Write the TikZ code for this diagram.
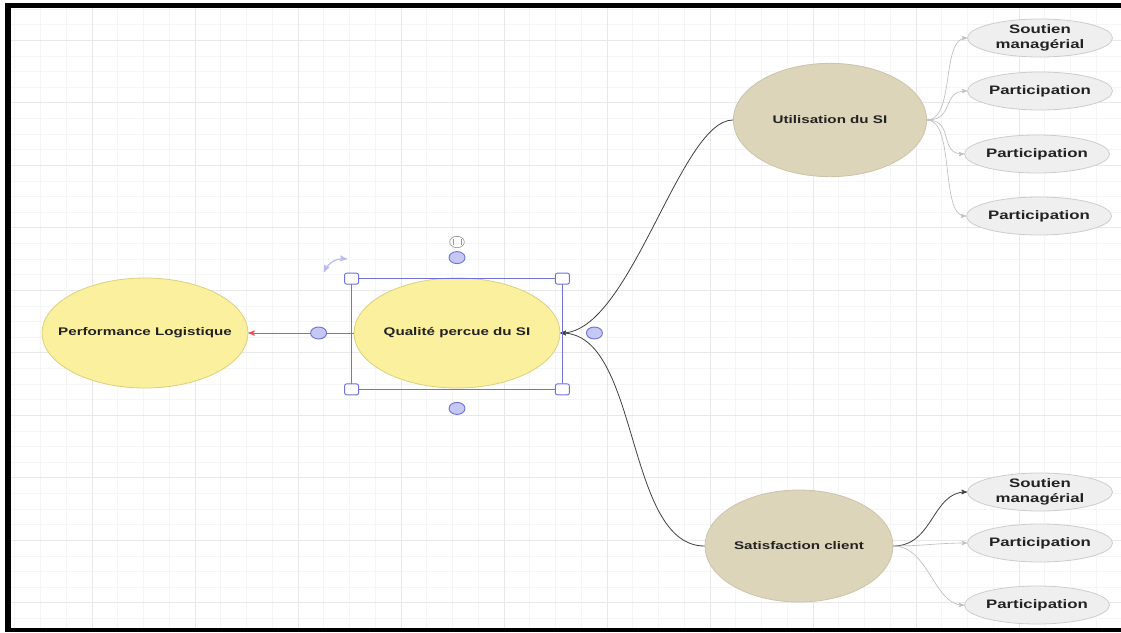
\documentclass[tikz,border=0pt]{standalone}
\usepackage{fontspec}
\setsansfont{Liberation Sans}[FakeStretch=1.37]
\usepackage{xcolor}
\usetikzlibrary{arrows,shapes}

\definecolor{gridmineur}{HTML}{F5F5F5}
\definecolor{gridmajeur}{HTML}{E8E8E8}
\definecolor{jaune}{HTML}{FAF09E}
\definecolor{jaunebord}{HTML}{DAD07E}
\definecolor{beige}{HTML}{DDD5BA}
\definecolor{grisclair}{HTML}{EFEFEF}
\definecolor{grisbord}{HTML}{CDCDCD}
\definecolor{texte}{HTML}{222222}
\definecolor{selbleu}{HTML}{6F73D9}
\definecolor{poigneebleu}{HTML}{C6C8F4}
\definecolor{rouge}{HTML}{EE4F52}

\tikzset{
  facteur/.style={ellipse, fill=jaune, draw=jaunebord, line width=0.6pt,
    inner xsep=-14pt, inner ysep=-2pt,
    minimum width=154.5pt, minimum height=82.5pt, text=texte,
    font=\sffamily\bfseries\fontsize{8.3}{10}\selectfont},
  dimension/.style={facteur, fill=beige, draw=beige!92!black,
    minimum width=145pt, minimum height=85pt},
  critere/.style={ellipse, fill=grisclair, draw=grisbord, line width=0.6pt,
    inner xsep=-14pt, inner ysep=-2pt,
    minimum width=108.75pt, minimum height=28.5pt, align=center, text=texte,
    font=\sffamily\bfseries\fontsize{9.2}{11.3}\selectfont},
  lien/.style={draw=black!75, line width=0.6pt},
  lienclair/.style={draw=black!25, line width=0.5pt},
  selbox/.style={draw=selbleu, line width=1.1pt},
  coin/.style={rectangle, rounded corners=1.5pt, fill=white, draw=selbleu, line width=0.7pt,
    minimum width=10.5pt, minimum height=8.2pt, inner sep=0pt},
  poignee/.style={ellipse, fill=poigneebleu, draw=selbleu, line width=0.7pt,
    minimum width=12pt, minimum height=9pt, inner sep=0pt},
  >=stealth'
}

\begin{document}
\begin{tikzpicture}[x=0.75pt,y=-0.75pt]
  \useasboundingbox (0,0) rectangle (1121,632);
  \fill[white] (-6,-6) rectangle (1127,638);

  \foreach \i in {0,...,42}
    \draw[gridmineur, line width=0.45pt] ({14.6+25.75*\i},8) -- ({14.6+25.75*\i},628);
  \foreach \i in {0,...,39}
    \draw[gridmineur, line width=0.45pt] (11,{9+15.625*\i}) -- (1121,{9+15.625*\i});
  \foreach \i in {0,...,9}
    \draw[gridmajeur, line width=0.55pt] ({92+103*\i},8) -- ({92+103*\i},628);
  \foreach \i in {0,...,9}
    \draw[gridmajeur, line width=0.55pt] (11,{40+62.5*\i}) -- (1121,{40+62.5*\i});

  \fill[black] (5,3) rectangle (1121,8);
  \fill[black] (5,3) rectangle (11,632);
  \fill[black] (5,628) rectangle (1121,632);

  \node[facteur] (perf) at (145,333) {Performance Logistique};
  \node[facteur] (qual) at (457,333) {Qualité percue du SI};
  \node[dimension] (util) at (830,120) {Utilisation du SI};
  \node[dimension, minimum width=141pt, minimum height=84pt] (satis) at (799,546) {Satisfaction client};

  \node[critere] (u1) at (1040,38) {Soutien\\managérial};
  \node[critere] (u2) at (1040,91) {Participation};
  \node[critere] (u3) at (1037,154) {Participation};
  \node[critere] (u4) at (1039,216) {Participation};

  \node[critere] (s1) at (1040,492) {Soutien\\managérial};
  \node[critere] (s2) at (1040,543) {Participation};
  \node[critere] (s3) at (1037,605) {Participation};

  \draw[lien, ->] (util.west) .. controls +(-53,0) and +(70,0) .. (qual.east);
  \draw[lien, ->] (satis.west) .. controls +(-80,0) and +(80,0) .. (qual.east);

  \foreach \cible in {u1,u2,u3,u4}
    \draw[lienclair, ->] (util.east) .. controls +(28,0) and +(-26,0) .. (\cible.west);
  \draw[lien, ->] (satis.east) .. controls +(40,0) and +(-35,0) .. (s1.west);
  \draw[lienclair, ->] (satis.east) .. controls +(30,0) and +(-30,0) .. (s2.west);
  \draw[lienclair, ->] (satis.east) .. controls +(35,0) and +(-30,0) .. (s3.west);

  \draw[rouge, line width=0.75pt, ->] (qual.west) -- (perf.east);

  \path (qual.west |- qual.north) ++(-2,1) coordinate (hg);
  \path (qual.east |- qual.south) ++(2,1) coordinate (bd);
  \draw[selbox] (hg) rectangle (bd);
  \node[coin] (c1) at (hg) {};
  \node[coin] (c2) at (hg -| bd) {};
  \node[coin] (c3) at (bd) {};
  \node[coin] (c4) at (hg |- bd) {};

  \path (qual.north) ++(0,-20) node[poignee] (ph) {};
  \path (qual.south) ++(0,20) node[poignee] (pb) {};
  \path (qual.west) ++(-35,0) node[poignee] (pg) {};
  \path (qual.east) ++(34,0) node[poignee] (pd) {};

  \node[ellipse, draw=black!40, line width=0.5pt, minimum width=11pt, minimum height=8.5pt,
    inner sep=0pt] (icone) at (457,242) {};
  \draw[black!40, line width=0.4pt] (453,239) -- (453,245) (461,239) -- (461,245);
  \draw[poigneebleu!85!selbleu, line width=0.9pt, <->] (324,272) to[bend left=35] (347,259);
\end{tikzpicture}
\end{document}
